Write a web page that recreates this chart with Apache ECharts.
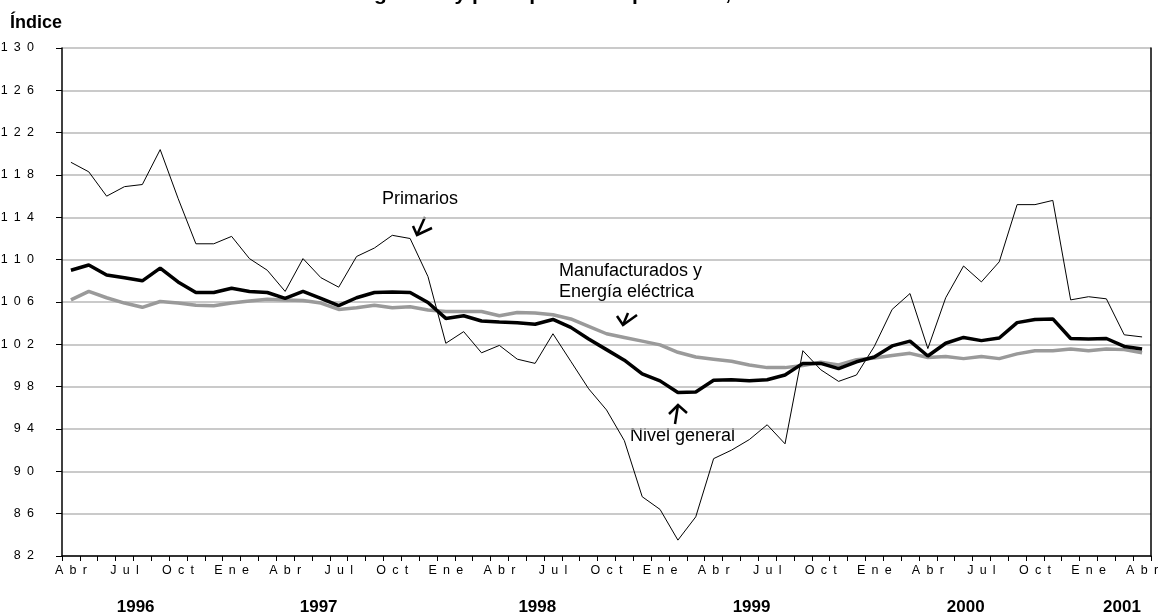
<!DOCTYPE html>
<html>
<head>
<meta charset="utf-8">
<script src="https://cdn.jsdelivr.net/npm/echarts@6/dist/echarts.min.js"></script>
<style>
  html, body { margin: 0; padding: 0; background: #fff; }
  #chart { width: 1160px; height: 616px; }
</style>
</head>
<body>
<div id="chart"></div>
<script>
// meses abr 1996 - abr 2001
var mesesNombre = ['Ene', 'Feb', 'Mar', 'Abr', 'May', 'Jun', 'Jul', 'Ago', 'Sep', 'Oct', 'Nov', 'Dic']
var meses = []
for (var k = 0; k < 61; k++) {
  meses.push(mesesNombre[(k + 3) % 12])
}
var anios = ['1996', '1997', '1998', '1999', '2000', '2001']

var primarios = [119.2, 118.3, 116.0, 116.9, 117.1, 120.4, 115.8, 111.5, 111.5, 112.2,
  110.1, 109.0, 107.0, 110.1, 108.3, 107.4, 110.3, 111.1, 112.3, 112.0,
  108.4, 102.1, 103.2, 101.2, 101.9, 100.6, 100.2, 103.0, 100.4, 97.8,
  95.8, 92.9, 87.6, 86.4, 83.5, 85.7, 91.2, 92.0, 93.0, 94.4,
  92.6, 101.4, 99.6, 98.5, 99.1, 101.8, 105.3, 106.8, 101.6, 106.4,
  109.4, 107.9, 109.8, 115.2, 115.2, 115.6, 106.2, 106.5, 106.3, 102.9, 102.7]

var nivelGeneral = [109.0, 109.5, 108.55, 108.3, 108.0, 109.2, 107.9, 106.9, 106.9, 107.3,
  107.0, 106.9, 106.35, 107.0, 106.35, 105.65, 106.4, 106.9, 106.95, 106.9,
  105.95, 104.45, 104.7, 104.2, 104.1, 104.05, 103.9, 104.35, 103.6, 102.5,
  101.5, 100.5, 99.2, 98.55, 97.45, 97.5, 98.6, 98.65, 98.55, 98.65,
  99.1, 100.2, 100.2, 99.7, 100.35, 100.8, 101.85, 102.3, 100.9, 102.1,
  102.65, 102.35, 102.6, 104.05, 104.35, 104.4, 102.55, 102.5, 102.55, 101.8, 101.55]

var manufacturados = [106.2, 107.0, 106.4, 105.9, 105.5, 106.05, 105.9, 105.7, 105.65, 105.9,
  106.1, 106.25, 106.2, 106.15, 105.9, 105.3, 105.45, 105.7, 105.45, 105.55,
  105.25, 105.1, 105.1, 105.1, 104.7, 105.0, 104.95, 104.8, 104.4, 103.7,
  103.0, 102.65, 102.3, 101.95, 101.25, 100.8, 100.6, 100.4, 100.05, 99.8,
  99.8, 100.0, 100.3, 100.05, 100.55, 100.7, 100.95, 101.15, 100.75, 100.85,
  100.65, 100.85, 100.65, 101.1, 101.4, 101.4, 101.55, 101.4, 101.55, 101.5, 101.2]

// eje de años: cuartos de mes, etiqueta en la posicion donde va cada año
var slotsAnio = [16, 57, 106, 154, 202, 237]
var ejeAnios = []
for (var q = 0; q < 61 * 4; q++) ejeAnios.push('')
anios.forEach(function (a, i) { ejeAnios[slotsAnio[i]] = a })

var espaciado = function (s) {
  return String(s).split('').join('\u2002')
}

var chart = echarts.init(document.getElementById('chart'))
var fuente = 'Liberation Sans, Arial, sans-serif'

var option = {
  animation: false,
  title: {
    text: 'Nivel general y principales componentes, 1996-2001',
    left: 313,
    top: -21,
    textStyle: { fontFamily: fuente, fontSize: 21, fontWeight: 'bold', color: '#000' }
  },
  grid: { left: 62, right: 9, top: 48, bottom: 60, containLabel: false, outerBoundsMode: 'none' },
  xAxis: [
    {
      type: 'category',
      data: meses,
      boundaryGap: true,
      axisLine: { lineStyle: { color: '#000', width: 1.5 } },
      axisTick: { show: true, interval: 0, length: 5, lineStyle: { color: '#000' } },
      axisLabel: {
        interval: 2,
        margin: 8,
        color: '#000',
        fontFamily: fuente,
        fontSize: 12.5,
        formatter: espaciado
      },
      splitLine: { show: false }
    },
    {
      type: 'category',
      data: ejeAnios,
      position: 'bottom',
      offset: 30,
      boundaryGap: true,
      axisLine: { show: false },
      axisTick: { show: false },
      axisLabel: {
        interval: 0,
        margin: 13,
        color: '#000',
        fontFamily: fuente,
        fontSize: 17,
        fontWeight: 'bold'
      }
    }
  ],
  yAxis: [
    {
      type: 'value',
      min: 82,
      max: 130,
      interval: 4,
      name: 'Índice',
      nameLocation: 'end',
      nameGap: 16,
      nameTextStyle: { fontFamily: fuente, fontSize: 18, fontWeight: 'bold', color: '#000', align: 'left', padding: [0, 0, 0, -52] },
      axisLine: { show: true, lineStyle: { color: '#000', width: 1.5 } },
      axisTick: { show: true, length: 6, lineStyle: { color: '#000' } },
      axisLabel: {
        margin: 28,
        color: '#000',
        fontFamily: fuente,
        fontSize: 12.5,
        formatter: espaciado
      },
      splitLine: { show: true, lineStyle: { color: '#b8b8b8', width: 1.5 } }
    },
    {
      type: 'value',
      min: 82,
      max: 130,
      interval: 4,
      position: 'right',
      axisLine: { show: true, lineStyle: { color: '#000', width: 1.5 } },
      axisTick: { show: false },
      axisLabel: { show: false },
      splitLine: { show: false }
    }
  ],
  series: [
    {
      name: 'Manufacturados y Energía eléctrica',
      type: 'line',
      data: manufacturados,
      symbol: 'none',
      lineStyle: { color: '#9a9a9a', width: 3.5 },
      z: 2
    },
    {
      name: 'Primarios',
      type: 'line',
      data: primarios,
      symbol: 'none',
      lineStyle: { color: '#000', width: 1 },
      z: 3
    },
    {
      name: 'Nivel general',
      type: 'line',
      data: nivelGeneral,
      symbol: 'none',
      lineStyle: { color: '#000', width: 3.5 },
      z: 4
    }
  ],
  graphic: [
    { type: 'text', left: 382, top: 190, style: { text: 'Primarios', font: '18px ' + fuente, fill: '#000' } },
    { type: 'polyline', shape: { points: [[425, 217], [417, 235]] }, style: { stroke: '#000', lineWidth: 2.5, fill: null } },
    { type: 'polyline', shape: { points: [[413, 226], [417, 235], [432, 228]] }, style: { stroke: '#000', lineWidth: 2.5, fill: null } },
    { type: 'text', left: 559, top: 261, style: { text: 'Manufacturados y\nEnergía eléctrica', font: '18px ' + fuente, fill: '#000', lineHeight: 21 } },
    { type: 'polyline', shape: { points: [[628, 313], [623, 325]] }, style: { stroke: '#000', lineWidth: 2.5, fill: null } },
    { type: 'polyline', shape: { points: [[617, 316], [623, 325], [637, 315]] }, style: { stroke: '#000', lineWidth: 2.5, fill: null } },
    { type: 'text', left: 630, top: 427, style: { text: 'Nivel general', font: '18px ' + fuente, fill: '#000' } },
    { type: 'polyline', shape: { points: [[675, 424], [678, 405]] }, style: { stroke: '#000', lineWidth: 2.5, fill: null } },
    { type: 'polyline', shape: { points: [[669, 414], [678, 405], [687, 413]] }, style: { stroke: '#000', lineWidth: 2.5, fill: null } }
  ]
}
chart.setOption(option)
</script>
</body>
</html>
